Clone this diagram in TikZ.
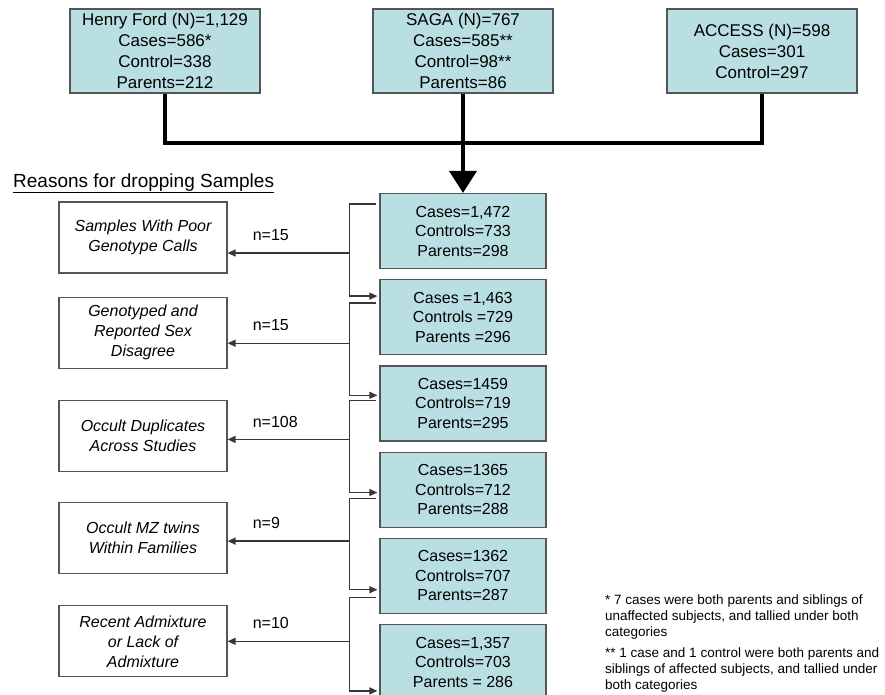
\documentclass[tikz,border=0pt]{standalone}
\usepackage{fontspec}
\setmainfont{Liberation Sans}
\usepackage{xcolor}
\usetikzlibrary{positioning,arrows.meta}
\definecolor{cellfill}{RGB}{186,223,226}
\definecolor{cellline}{RGB}{85,85,85}
\definecolor{wire}{RGB}{55,55,55}

\begin{document}
\begin{tikzpicture}[x=1pt, y=-1pt, font=\fontsize{16}{19.5}\selectfont]
\tikzstyle{box}=[draw=cellline, line width=1.2pt, align=center, inner sep=2pt]
\tikzstyle{study}=[box, fill=cellfill, minimum height=84pt,
  font=\fontsize{17}{21}\selectfont]
\tikzstyle{count}=[box, fill=cellfill, minimum width=166pt, minimum height=75pt]
\tikzstyle{reason}=[box, fill=white, minimum width=168pt, minimum height=71pt,
  font=\fontsize{16}{20}\selectfont\itshape]
\tikzstyle{merge}=[line width=4pt]
\tikzstyle{link}=[draw=wire, line width=1.3pt, -{Triangle[length=8pt,width=7pt]}]
\tikzstyle{nlab}=[inner sep=0pt, anchor=south west]
\tikzstyle{note}=[inner sep=0pt, align=left, font=\fontsize{13.5}{16}\selectfont]
\useasboundingbox (0,0) rectangle (885,694);

% studies
\node[study, minimum width=190pt] (hf) at (165,51)
  {Henry Ford (N)=1,129\\Cases=586*\\Control=338\\Parents=212};
\node[study, minimum width=180pt] (sg) at (463,51)
  {SAGA (N)=767\\Cases=585**\\Control=98**\\Parents=86};
\node[study, minimum width=190pt] (ac) at (762,51)
  {ACCESS (N)=598\\Cases=301\\Control=297};

% counts after each step
\node[count] (r1) at (463,231) {Cases=1,472\\Controls=733\\Parents=298};
\node[count, below=10pt of r1] (r2) {Cases =1,463\\Controls =729\\Parents =296};
\node[count, below=10pt of r2] (r3) {Cases=1459\\Controls=719\\Parents=295};
\node[count, below=10pt of r3] (r4) {Cases=1365\\Controls=712\\Parents=288};
\node[count, below=10pt of r4] (r5) {Cases=1362\\Controls=707\\Parents=287};
\node[count, below=10pt of r5] (r6) {Cases=1,357\\Controls=703\\Parents = 286};

% reasons
\node[anchor=base west, inner sep=0pt, font=\fontsize{19}{23}\selectfont] (head)
  at (13,187) {\underline{Reasons for dropping Samples}};
\node[reason] (q1) at (143,237.5) {Samples With Poor\\Genotype Calls};
\node[reason, below=23pt of q1] (q2) {Genotyped and\\Reported Sex\\Disagree};
\node[reason, below=31pt of q2] (q3) {Occult Duplicates\\Across Studies};
\node[reason, below=30pt of q3] (q4) {Occult MZ twins\\Within Families};
\node[reason, below=31pt of q4] (q5) {Recent Admixture\\or Lack of\\Admixture};

\coordinate (bar) at (463,143);
\draw[merge] (hf.south) |- (bar) -| (ac.south);
\draw[merge, -{Triangle[length=22pt,width=27pt]}] (sg.south) -- (r1.north);

\foreach \k/\n/\a/\b/\c/\m in {1/2/11/17/15.5/15, 2/3/24/30/10.5/15,
    3/4/35/41/3.5/108, 4/5/47/52/3/9, 5/6/60/67/0/10} {
  \coordinate (e\k) at ([yshift=-\c pt]q\k.east);
  \draw[link] ([xshift=-3pt,yshift=-\a pt]r\k.north west) -- ++(-27,0)
    coordinate (c\k) |- ([xshift=-2pt,yshift=-\b pt]r\n.north west);
  \draw[link] (c\k |- e\k) -- (e\k);
  \node[nlab] (n\k) at ([xshift=25pt,yshift=12pt]e\k) {n=\m};
}

% footnotes
\node[note, anchor=base west] (fn1) at (605,636)
  {* 7 cases were both parents and siblings of\\unaffected subjects, and tallied under both\\categories};
\node[note, below=9pt of fn1.south west, anchor=north west] (fn2)
  {** 1 case and 1 control were both parents and\\siblings of affected subjects, and tallied under\\both categories};
\end{tikzpicture}
\end{document}
